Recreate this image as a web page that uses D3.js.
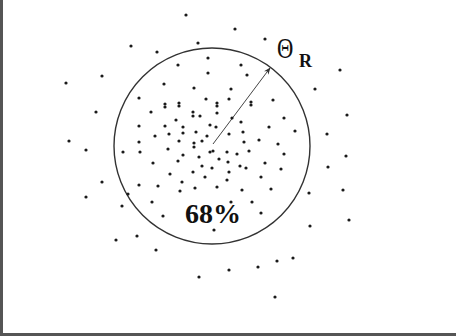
<!DOCTYPE html>
<html>
<head>
<meta charset="utf-8">
<script src="https://cdn.jsdelivr.net/npm/d3@7/dist/d3.min.js"></script>
<style>
html,body{margin:0;padding:0;background:#fff;}
svg{display:block;}
</style>
</head>
<body>
<script>
// Scatter points (sky-plane coordinates)
const pointX = [186,198,131,157,235,265,102,66,340,315,96,347,327,69,86,346,328,102,86,343,309,349,310,116,137,156,199,229,258,277,293,275,
208,178,208,164,194,139,206,165,165,179,179,151,193,193,200,176,139,165,183,183,210,216,169,196,155,207,139,179,202,194,194,168,
241,247,231,229,217,217,251,251,273,217,232,284,241,269,243,295,229,244,259,278,
123,140,210,183,199,153,178,202,212,170,193,205,182,139,158,180,195,128,152,163,214,
213,227,237,249,284,219,228,240,246,265,229,281,227,261,217,242,271,231,252,261,122];
const pointY = [15,43,46,52,29,39,76,83,70,89,112,115,134,141,150,156,167,182,197,190,193,220,226,240,236,250,277,270,267,261,258,297,
58,65,73,84,88,98,99,104,107,103,106,112,112,116,116,120,126,126,127,133,125,127,134,132,136,136,142,141,141,143,147,149,
65,75,89,99,103,106,102,105,100,113,118,118,122,127,132,131,134,142,140,144,
152,152,152,155,157,163,161,166,168,174,172,177,182,185,186,191,188,194,202,216,230,
151,152,154,151,154,159,162,166,168,163,172,169,180,177,187,190,189,202,202,213,206];

// Containment circle and radius arrow
const circleCenter = [212, 146];
const circleRadius = 98;
const arrowEnd = [270, 68];
const labels = { theta: "Θ", sub: "R", pct: "68%" };

const W = 456, H = 336;
const x = d3.scaleLinear().domain([0, 456]).range([0, W]);
const y = d3.scaleLinear().domain([0, 336]).range([0, H]);

const svg = d3.select("body").append("svg").attr("width", W).attr("height", H);

svg.append("defs").append("marker")
  .attr("id", "ah").attr("viewBox", "0 0 10 10").attr("refX", 9).attr("refY", 5)
  .attr("markerWidth", 7).attr("markerHeight", 7).attr("orient", "auto")
  .append("path").attr("d", "M0,1 L10,5 L0,9 L3,5 Z").attr("fill", "#333");

// frame (left and bottom)
svg.append("line").attr("x1", 1.5).attr("x2", 1.5).attr("y1", 0).attr("y2", H)
  .attr("stroke", "#555").attr("stroke-width", 3);
svg.append("line").attr("x1", 0).attr("x2", W).attr("y1", H - 1.5).attr("y2", H - 1.5)
  .attr("stroke", "#555").attr("stroke-width", 3);

svg.append("circle")
  .attr("cx", x(circleCenter[0])).attr("cy", y(circleCenter[1]))
  .attr("r", x(circleRadius) - x(0))
  .attr("fill", "none").attr("stroke", "#333").attr("stroke-width", 1.4);

svg.append("line")
  .attr("x1", x(circleCenter[0] + 1)).attr("y1", y(circleCenter[1] - 2))
  .attr("x2", x(arrowEnd[0])).attr("y2", y(arrowEnd[1]))
  .attr("stroke", "#444").attr("stroke-width", 1).attr("marker-end", "url(#ah)");

svg.append("g").selectAll("circle").data(pointX.map((v, i) => [v, pointY[i]]))
  .join("circle")
  .attr("cx", d => x(d[0])).attr("cy", d => y(d[1]))
  .attr("r", 1.6).attr("fill", "#1a1a1a");

svg.append("text").attr("transform", "translate(277,58) scale(0.78,1)")
  .attr("font-family", "'Liberation Serif', serif").attr("font-size", 29)
  .attr("fill", "#111").text(labels.theta);
svg.append("text").attr("x", 299).attr("y", 67)
  .attr("font-family", "'Liberation Serif', serif").attr("font-size", 18)
  .attr("font-weight", "bold").attr("fill", "#111").text(labels.sub);

svg.append("text").attr("x", 185).attr("y", 223)
  .attr("font-family", "'Liberation Serif', serif").attr("font-weight", "bold")
  .attr("font-size", 28).attr("fill", "#111").text(labels.pct);
</script>
</body>
</html>
